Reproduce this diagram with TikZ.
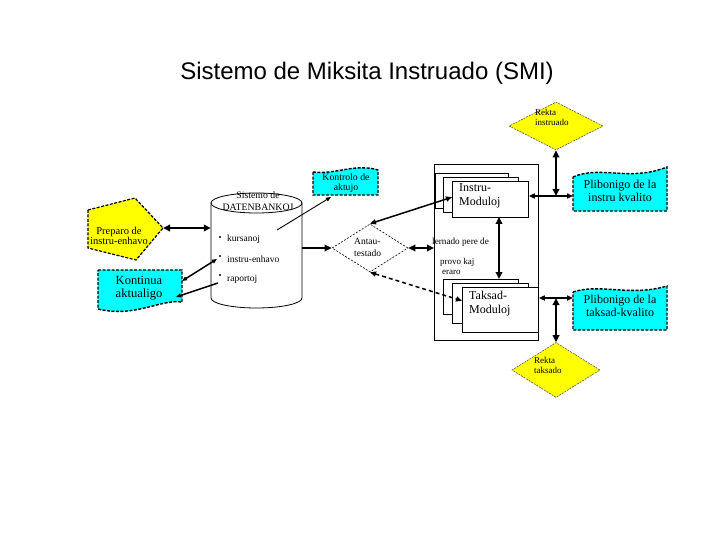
\documentclass[tikz,border=0pt]{standalone}
\usepackage{fontspec}
\setmainfont{Liberation Serif}
\newfontfamily\titlefont{Liberation Sans}
\usetikzlibrary{arrows.meta,shapes.geometric,calc}
\definecolor{aqua}{RGB}{0,255,255}
\definecolor{yel}{RGB}{255,255,0}
\newcommand\myfs[2]{\fontsize{#1}{#2}\selectfont}
\tikzset{
  bigtip/.tip={Triangle[length=7pt,width=6.5pt]},
  midtip/.tip={Triangle[length=6pt,width=5pt]},
  smalltip/.tip={Triangle[length=5pt,width=4pt]},
  heavy/.style={line width=2.4pt},
  medium/.style={line width=1.5pt},
  lightline/.style={line width=0.9pt},
  cbox/.style={draw, fill=aqua, line width=1.4pt, dash pattern=on 3pt off 1.5pt},
  ybox/.style={draw, fill=yel, line width=1.2pt, dash pattern=on 3pt off 1.5pt},
  ydiam/.style={diamond, draw=black!65, fill=yel, line width=0.6pt, dash pattern=on 2pt off 1pt, inner sep=0pt},
  page/.style={draw, fill=white, line width=0.8pt},
  lbl/.style={inner sep=0pt, align=left},
  ctr/.style={inner sep=0pt, align=center},
}
\begin{document}
\begin{tikzpicture}[x=1pt,y=-1pt]
\useasboundingbox (0,0) rectangle (720,540);
\fill[white] (0,0) rectangle (720,540);

% title
\node[inner sep=0pt, font={\titlefont\myfs{24}{28}}] (title) at (367,73) {Sistemo de Miksita Instruado (SMI)};

% Rekta instruado
\node[ydiam, minimum width=94pt, minimum height=48pt] (ri) at (556,126) {};
\node[lbl, anchor=west, font={\myfs{9}{10}}] (rit) at (535,117) {Rekta\\instruado};

% Plibonigo instru
\draw[cbox] (573,177) .. controls (600,165) and (630,182) .. (667,167) -- (667,211) -- (573,211) -- cycle;
\node[ctr, font={\myfs{12}{13}}] (pi) at (620,191) {Plibonigo de la\\instru kvalito};
\coordinate (piW) at (573,196);

% Plibonigo taksad
\draw[cbox] (573,292) .. controls (600,283) and (630,297) .. (667,286) -- (667,330) -- (573,330) -- cycle;
\node[ctr, font={\myfs{12}{13}}] (pt) at (620,306) {Plibonigo de la\\taksad-kvalito};
\coordinate (ptW) at (573,298);

% Rekta taksado
\node[ydiam, minimum width=88pt, minimum height=55pt] (rt) at (556,370) {};
\node[lbl, anchor=west, font={\myfs{9}{10}}] (rtt) at (534,365) {Rekta\\taksado};

% container
\node[page, minimum width=104pt, minimum height=176pt, inner sep=0pt, anchor=north west] (cont) at (434,164) {};
% instru pages
\draw[page] (435,173) rectangle (508,208);
\draw[page] (443,177) rectangle (518,212);
\node[page, minimum width=76pt, minimum height=36pt, inner sep=0pt, anchor=north west] (im) at (452,181) {};
\node[lbl, anchor=west, font={\myfs{12}{14}}] (imt) at (459,196) {Instru-\\Moduloj};
% taksad pages
\draw[page] (443,279) rectangle (518,314);
\draw[page] (452,283) rectangle (528,323);
\node[page, minimum width=76pt, minimum height=45pt, inner sep=0pt, anchor=north west] (tm) at (462,287) {};
\node[lbl, anchor=west, font={\myfs{12}{14}}] (tmt) at (469,304) {Taksad-\\Moduloj};
\node[lbl, anchor=west, font={\myfs{9.2}{10}}] (lern) at (432,242) {lernado pere de};
\node[lbl, anchor=west, font={\myfs{9}{10}}] (prov) at (440,266) {provo kaj\\\hspace*{2pt}eraro};

% Antau-testado
\node[diamond, draw, fill=white, line width=0.6pt, dash pattern=on 2pt off 1.5pt, minimum width=76pt, minimum height=48pt, inner sep=0pt] (ant) at (370,248) {};
\node[lbl, anchor=west, font={\myfs{9.5}{12}}] (antt) at (354,247) {Antau-\\testado};

% Kontrolo de aktujo
\draw[cbox] (313,172) .. controls (335,175) and (355,163) .. (378,170) -- (378,195) -- (313,195) -- cycle;
\node[ctr, font={\myfs{9.8}{10.5}}] (kon) at (346,183) {Kontrolo de\\aktujo};
\coordinate (konBL) at (331,197);

% database cylinder
\node[minimum width=91pt, minimum height=115pt, inner sep=0pt] (db) at (256.5,250.5) {};
\fill[white] (211,203) -- (211,298) arc[start angle=180, end angle=360, x radius=45.5pt, y radius=10pt] -- (302,203) -- cycle;
\draw[line width=0.8pt] (211,203) -- (211,298) arc[start angle=180, end angle=360, x radius=45.5pt, y radius=10pt] -- (302,203);
\draw[line width=0.8pt] (256.5,203) ellipse[x radius=45.5pt, y radius=10pt];
\node[ctr, font={\myfs{9.8}{12}}] (dbt) at (258,201) {Sistemo de\\DATENBANKOJ};
\fill (220,237) circle (1.2pt);
\fill (220,256) circle (1.2pt);
\fill (220,275) circle (1.2pt);
\node[lbl, anchor=west, font={\myfs{9.5}{10}}] (b1) at (227,239) {kursanoj};
\node[lbl, anchor=west, font={\myfs{9.5}{10}}] (b2) at (227,259) {instru-enhavo};
\node[lbl, anchor=west, font={\myfs{9.5}{10}}] (b3) at (227,279) {raportoj};
\coordinate (dbIn) at (277,230);
\coordinate (dbB2) at (217,259);
\coordinate (dbB3) at (218,283);

% Preparo
\draw[ybox] (88,210) -- (135,198) -- (163,228) -- (136,260) -- (88,248) -- cycle;
\node[ctr, font={\myfs{10.5}{10.5}}] (prep) at (119,236) {Preparo de\\instru-enhavo};
\coordinate (prepR) at (163,228);

% Kontinua aktualigo
\draw[cbox] (98,270) -- (182,270) -- (182,302) .. controls (160,299) and (135,318) .. (98,309) -- cycle;
\node[ctr, font={\myfs{12.5}{13}}] (kona) at (139,288) {Kontinua\\aktualigo};
\coordinate (konaR) at (182,281);
\coordinate (konaIn) at (176,297);

% connectors
\draw[heavy, bigtip-bigtip] (prepR) -- (db.west |- prepR);
\draw[medium, smalltip-smalltip] (dbB2) -- (konaR);
\draw[medium, -smalltip] (dbB3) -- (konaIn);
\draw[lightline, -smalltip] (dbIn) -- (konBL);
\draw[heavy, -bigtip] (db.east |- ant.west) -- (ant.west);
\draw[heavy, bigtip-bigtip] (ant.east) -- (cont.west |- ant.east);
\coordinate (imW) at ($(im.north west)!0.44!(im.south west)$);
\draw[medium, midtip-midtip] (ant.north) -- (imW);
\coordinate (tmW) at ($(tm.north west)!0.3!(tm.south west)$);
\draw[medium, dash pattern=on 4pt off 3pt, midtip-midtip] (ant.south) -- (tmW);
\coordinate (v1) at (499,217);
\coordinate (v2) at (499,279);
\draw[heavy, bigtip-bigtip] (v1) -- (v2);
\coordinate (j1) at (556,196);
\draw[heavy, bigtip-bigtip] (ri.south) -- (j1);
\draw[medium, midtip-midtip] (im.east |- j1) -- (piW);
\coordinate (j2) at (556,298);
\draw[heavy, bigtip-bigtip] (j2) -- (rt.north);
\draw[medium, midtip-midtip] (tm.east |- j2) -- (ptW);
\end{tikzpicture}
\end{document}
